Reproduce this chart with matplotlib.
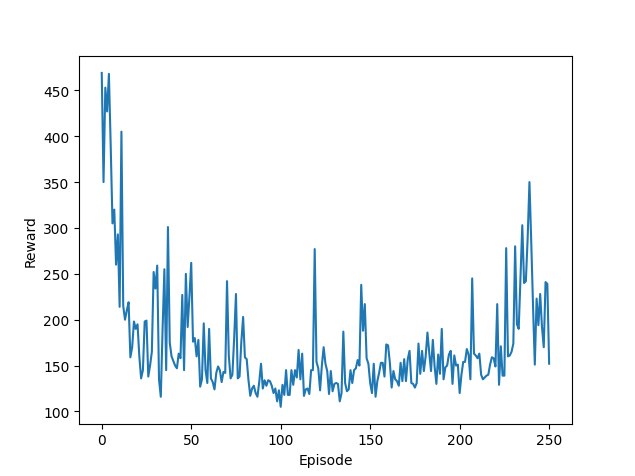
import matplotlib
matplotlib.use("Agg")
import matplotlib.pyplot as plt

rewards = [
    469, 350, 453, 427, 468, 390, 305, 320, 260, 293,
    214, 405, 215, 200, 210, 219, 159, 170, 198, 190,
    195, 160, 136, 145, 198, 199, 138, 150, 165, 252,
    234, 259, 135, 116, 190, 255, 145, 301, 175, 160,
    155, 150, 147, 163, 158, 227, 145, 250, 192, 225,
    262, 176, 180, 160, 178, 127, 135, 196, 145, 131,
    190, 136, 132, 124, 142, 149, 145, 132, 143, 142,
    242, 161, 136, 140, 180, 228, 136, 138, 176, 203,
    159, 157, 134, 117, 125, 128, 120, 116, 132, 152,
    125, 134, 128, 134, 133, 128, 120, 125, 111, 123,
    105, 129, 118, 145, 118, 118, 145, 129, 145, 137,
    167, 135, 163, 117, 124, 125, 119, 145, 145, 277,
    154, 147, 123, 150, 170, 152, 144, 119, 144, 122,
    130, 131, 130, 111, 120, 187, 131, 122, 124, 145,
    131, 145, 147, 156, 150, 238, 188, 217, 158, 152,
    131, 120, 152, 116, 133, 142, 153, 153, 138, 173,
    172, 153, 126, 144, 135, 133, 128, 153, 133, 157,
    133, 157, 166, 131, 130, 126, 131, 174, 141, 166,
    144, 160, 186, 164, 144, 178, 149, 130, 162, 141,
    190, 135, 148, 150, 162, 166, 130, 161, 150, 151,
    120, 140, 154, 154, 168, 162, 135, 245, 163, 161,
    158, 163, 140, 135, 137, 139, 140, 151, 159, 158,
    149, 217, 129, 171, 139, 139, 278, 160, 161, 165,
    174, 280, 195, 190, 245, 303, 240, 242, 289, 350,
    285, 215, 151, 223, 194, 228, 192, 170, 241, 239,
    152,
]
episodes = list(range(len(rewards)))


def main():
    plt.figure(figsize=(6.35, 4.77), dpi=100)
    plt.plot(episodes, rewards)
    plt.xlabel("Episode")
    plt.ylabel("Reward")
    plt.savefig("out.png", dpi=100)


if __name__ == "__main__":
    main()
